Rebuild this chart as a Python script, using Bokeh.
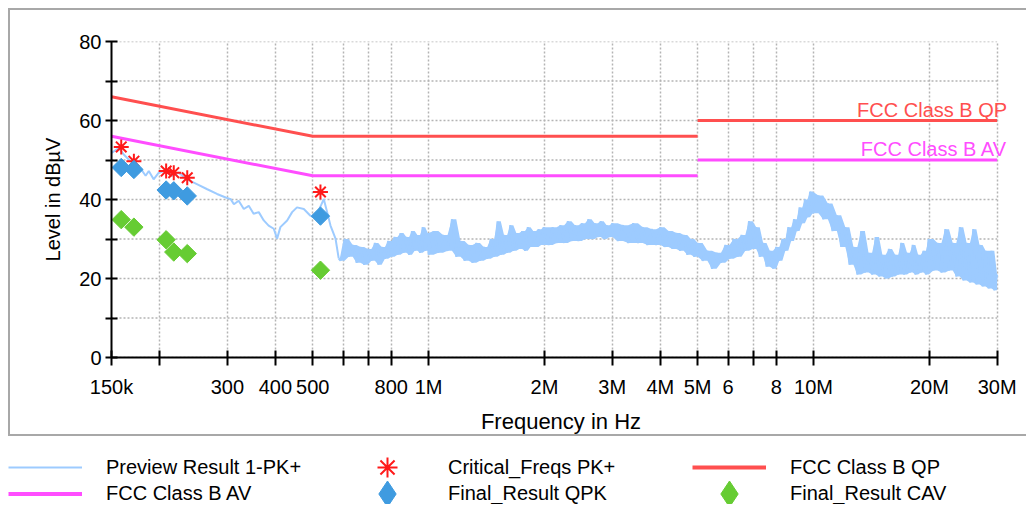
from bokeh.plotting import figure
from bokeh.models import FixedTicker, Range1d, Legend, LegendItem, Label
from bokeh.layouts import column
from bokeh.embed import file_html
from bokeh.resources import INLINE

FONT = "Liberation Sans"

# ---------------- data ----------------
# Preview Result 1-PK+ : smooth low-frequency part (kHz, dBuV)
preview_smooth_khz = [150.0, 156.7, 161.4, 168, 178, 184, 187.5, 193, 199, 207, 216, 224, 236,
                      250, 266, 282, 297, 306, 312, 321, 331, 341, 351, 362, 373, 384, 396,
                      404, 412, 429, 442, 455, 474, 493, 503, 518, 534, 545, 556, 573, 584]
preview_smooth_level = [51.8, 53.0, 51.4, 49.7, 48.0, 46.0, 47.2, 45.1, 46.8, 47.2, 46.0, 46.8, 45.1,
                        43.9, 42.6, 41.4, 40.5, 40.1, 38.8, 39.7, 37.6, 38.4, 36.4, 36.8, 34.7, 33.4, 32.6,
                        30.1, 33.0, 34.7, 36.8, 38.0, 37.6, 35.9, 35.5, 37.2, 40.1, 36.8, 33.4, 30.1, 25.1]

# Preview Result 1-PK+ : noisy part (MHz, dBuV), alternating lows and highs of the noise band
preview_noisy_mhz = [
    0.590, 0.605, 0.620, 0.635, 0.650, 0.665, 0.680, 0.695, 0.710, 0.725, 0.740, 0.755, 0.770, 0.785,
    0.800, 0.815, 0.830, 0.845, 0.860, 0.875, 0.890, 0.905, 0.920, 0.935, 0.950, 0.965, 0.980, 0.995,
    1.00, 1.03, 1.06, 1.09, 1.12, 1.15, 1.18, 1.21, 1.24, 1.27, 1.30, 1.33, 1.36, 1.39, 1.42, 1.45, 1.48,
    1.51, 1.54, 1.57, 1.60, 1.63, 1.66, 1.69, 1.72, 1.75, 1.78, 1.81, 1.84, 1.87, 1.90, 1.93, 1.96, 1.99,
    2.05, 2.10, 2.15, 2.20, 2.25, 2.30, 2.35, 2.40, 2.45, 2.50, 2.55, 2.60, 2.65, 2.70, 2.75, 2.80, 2.85,
    2.90, 2.95, 3.00,
    3.1, 3.2, 3.3, 3.4, 3.5, 3.6, 3.7, 3.8, 3.9, 4.0, 4.1, 4.2, 4.3, 4.4, 4.5, 4.6, 4.7, 4.8, 4.9, 5.0,
    5.15, 5.30, 5.45, 5.60, 5.75, 5.90, 6.05, 6.20, 6.35, 6.50, 6.65, 6.80, 6.95, 7.10, 7.25, 7.40, 7.55,
    7.70, 7.85, 8.00, 8.15, 8.30, 8.45, 8.60, 8.75, 8.90, 9.05, 9.20, 9.35, 9.50, 9.65, 9.80, 9.95,
    10.3, 10.6, 10.9, 11.2, 11.5, 11.8, 12.1, 12.4, 12.7, 13.0, 13.3, 13.6, 13.9, 14.2, 14.5, 14.8, 15.1,
    15.4, 15.7, 16.0, 16.3, 16.6, 16.9, 17.2, 17.5, 17.8, 18.1, 18.4, 18.7, 19.0, 19.3, 19.6, 19.9,
    20.5, 21.0, 21.5, 22.0, 22.5, 23.0, 23.5, 24.0, 24.5, 25.0, 25.5, 26.0, 26.5, 27.0, 27.5, 28.0, 28.5,
    29.0, 29.5, 30.0]
preview_noisy_level = [
    24.5, 30.0, 25.5, 28.5, 24.0, 28.0, 23.5, 27.5, 24.5, 29.0, 23.5, 28.0, 25.0, 29.5,
    25.5, 30.5, 26.0, 31.5, 26.5, 30.5, 26.0, 32.0, 27.0, 31.0, 26.5, 33.0, 27.0, 31.5,
    26.0, 32.0, 26.5, 31.0, 27.0, 35.0, 25.5, 29.5, 24.5, 28.5, 24.0, 29.0, 24.5, 28.0, 25.0, 30.0, 25.5,
    34.5, 26.0, 31.0, 26.5, 33.5, 27.0, 31.5, 27.5, 32.0, 27.0, 33.0, 28.0, 32.0, 28.0, 32.5, 28.5, 33.0,
    28.5, 33.0, 29.0, 33.5, 29.0, 34.5, 29.5, 33.5, 29.5, 34.0, 30.0, 35.0, 30.0, 34.0, 30.5, 34.5, 30.0,
    33.5, 30.5, 34.0,
    29.5, 33.5, 29.0, 34.0, 29.0, 33.0, 28.5, 32.5, 28.5, 33.0, 28.0, 32.0, 27.5, 31.5, 27.0, 31.0, 26.0, 30.0, 25.5, 29.0,
    24.5, 27.0, 22.5, 26.5, 24.0, 28.5, 25.0, 30.0, 25.5, 31.0, 27.0, 34.5, 27.5, 33.0, 25.5, 29.0, 23.0,
    27.0, 22.5, 28.0, 24.5, 30.0, 27.0, 33.0, 29.5, 35.0, 32.0, 38.0, 34.0, 40.0, 35.5, 42.0, 36.5,
    41.0, 35.0, 39.0, 32.0, 36.0, 28.0, 33.0, 23.5, 28.0, 21.0, 32.0, 21.5, 26.5, 21.0, 30.5, 20.5, 26.0,
    20.0, 27.5, 20.5, 26.0, 21.0, 29.0, 21.0, 26.5, 21.5, 28.5, 21.0, 26.0, 21.5, 27.0, 21.0, 30.0,
    22.0, 29.0, 21.5, 32.5, 22.0, 29.0, 20.5, 33.0, 19.5, 29.0, 19.0, 32.5, 18.5, 28.5, 18.0, 27.0, 17.5,
    27.0, 17.0, 21.0]

# Limit lines (Hz, dBuV)
limit_freq = [[150e3, 500e3, 5e6], [5e6, 30e6]]
limit_qp_level = [[66, 56, 56], [60, 60]]
limit_av_level = [[56, 46, 46], [50, 50]]

# Markers
final_freq_khz = [159, 171.5, 208, 217.7, 236, 523.6]
critical_pk_level = [53.3, 49.7, 47.2, 46.8, 45.5, 41.9]
final_qpk_level = [48.1, 47.6, 42.4, 42.2, 40.9, 35.8]
final_cav_level = [34.9, 33.0, 29.8, 26.7, 26.3, 22.1]

# Axes
x_ticks = [150e3, 200e3, 300e3, 400e3, 500e3, 600e3, 700e3, 800e3, 1e6, 2e6, 3e6, 4e6, 5e6,
           6e6, 7e6, 8e6, 10e6, 20e6, 30e6]
x_tick_labels = ["150k", "", "300", "400", "500", "", "", "800", "1M", "2M", "3M", "4M", "5M",
                 "6", "", "8", "10M", "20M", "30M"]
y_ticks = [0, 10, 20, 30, 40, 50, 60, 70, 80]
y_tick_labels = ["0", "", "20", "", "40", "", "60", "", "80"]

C_TRACE = "#9DCBFF"
C_QP = "#FF4F4F"
C_AV = "#FF4DFF"
C_CRIT = "#FF1A1A"
C_QPK = "#3F9BE0"
C_CAV = "#66CC33"
C_BOX = "#a8a8a8"

# ---------------- layout constants (pixels) ----------------
W, H_CHART, H_LEG = 1026, 436, 68
FRAME_L, FRAME_T, FRAME_W, FRAME_H = 111, 41, 899, 319
FRAME_B = FRAME_T + FRAME_H

p = figure(width=W, height=H_CHART, x_axis_type="log",
           x_range=Range1d(150e3, 32.5e6), y_range=Range1d(0, 80),
           output_backend="svg", toolbar_location=None,
           min_border_left=FRAME_L, min_border_top=FRAME_T,
           min_border_right=W - FRAME_L - FRAME_W, min_border_bottom=H_CHART - FRAME_B)
p.outline_line_color = None
p.background_fill_color = "white"
p.border_fill_color = None
p.styles = {
    "background-color": "white",
    "background-image": ("linear-gradient(%s,%s), linear-gradient(%s,%s), linear-gradient(%s,%s)"
                         % (C_BOX, C_BOX, C_BOX, C_BOX, C_BOX, C_BOX)),
    "background-size": "2px 428px, 100% 2px, 100% 2px",
    "background-position": "8px 8px, 8px 8px, 8px 434px",
    "background-repeat": "no-repeat",
}

p.xaxis.ticker = FixedTicker(ticks=x_ticks)
p.xaxis.major_label_overrides = dict(zip(x_ticks, x_tick_labels))
p.xaxis.bounds = (x_ticks[0], x_ticks[-1])
p.yaxis.ticker = FixedTicker(ticks=y_ticks)
p.yaxis.major_label_overrides = dict(zip(y_ticks, y_tick_labels))
p.xaxis.axis_label = "Frequency in Hz"
p.yaxis.axis_label = "Level in dBµV"

for ax in (p.xaxis[0], p.yaxis[0]):
    ax.axis_line_width = 2
    ax.axis_line_color = "black"
    ax.major_tick_line_width = 2
    ax.major_tick_line_color = "black"
    ax.minor_tick_line_color = None
    ax.major_label_text_font = FONT
    ax.major_label_text_font_size = "20px"
    ax.major_label_text_color = "black"
    ax.axis_label_text_font = FONT
    ax.axis_label_text_font_style = "normal"
    ax.axis_label_text_color = "black"
p.xaxis.major_tick_in = 7
p.xaxis.major_tick_out = 8
p.xaxis.major_label_standoff = 10
p.xaxis.axis_label_standoff = 8
p.xaxis.axis_label_text_font_size = "22px"
p.yaxis.major_tick_in = 6
p.yaxis.major_tick_out = 6
p.yaxis.major_label_standoff = 4
p.yaxis.axis_label_standoff = 12
p.yaxis.axis_label_text_font_size = "20px"

GRID_C = "#b4b4b4"
p.xgrid.grid_line_color = GRID_C
p.xgrid.grid_line_dash = "2 2"
p.xgrid.grid_line_width = 1.5
p.ygrid.visible = False
p.segment(x0=x_ticks[0], x1=x_ticks[-1], y0=y_ticks, y1=y_ticks,
          line_color=GRID_C, line_dash="2 2", line_width=1.5)

# Preview trace
smooth_f = [k * 1e3 for k in preview_smooth_khz]
noisy_f = [smooth_f[-1]] + [m * 1e6 for m in preview_noisy_mhz]
noisy_l = [preview_smooth_level[-1]] + preview_noisy_level
# the dense noise band: span covered between neighbouring samples of the trace
band_lo = [min(a, b) for a, b in zip(noisy_l[:-1], noisy_l[1:])]
band_hi = [max(a, b) for a, b in zip(noisy_l[:-1], noisy_l[1:])]
p.varea(x=noisy_f[1:], y1=band_lo, y2=band_hi, fill_color=C_TRACE)
p.line(smooth_f, preview_smooth_level, line_color=C_TRACE, line_width=2)
p.line(noisy_f, noisy_l, line_color=C_TRACE, line_width=2)

p.multi_line(limit_freq, limit_qp_level, line_color=C_QP, line_width=3)
p.multi_line(limit_freq, limit_av_level, line_color=C_AV, line_width=3)

ff = [k * 1e3 for k in final_freq_khz]
p.scatter(ff, critical_pk_level, marker="asterisk", size=15, line_color=C_CRIT, line_width=2)
p.scatter(ff, final_qpk_level, marker="square", angle=0.785398, size=13,
          fill_color=C_QPK, line_color=C_QPK)
p.scatter(ff, final_cav_level, marker="square", angle=0.785398, size=13,
          fill_color=C_CAV, line_color=C_CAV)

p.add_layout(Label(x=limit_freq[1][-1], y=limit_qp_level[1][-1], text="FCC Class B QP",
                   text_align="right", text_baseline="middle", x_offset=10, y_offset=11,
                   text_color=C_QP, text_font=FONT, text_font_size="20px"))
p.add_layout(Label(x=limit_freq[1][-1], y=limit_av_level[1][-1], text="FCC Class B AV",
                   text_align="right", text_baseline="middle", x_offset=10, y_offset=11,
                   text_color=C_AV, text_font=FONT, text_font_size="20px"))

# ---------------- legend strip below the box ----------------
lg = figure(width=W, height=H_LEG, x_range=Range1d(0, 1), y_range=Range1d(0, 1),
            output_backend="svg", toolbar_location=None, min_border=0,
            x_axis_type=None, y_axis_type=None)
lg.outline_line_color = None
lg.background_fill_color = "white"
lg.border_fill_color = "white"
for fig in (p, lg):
    if "frame_align" in fig.properties():
        fig.frame_align = False

NO_DATA = [float("nan")]   # legend swatches only, nothing is drawn in the strip
s_tr = lg.line(NO_DATA, NO_DATA, line_color=C_TRACE, line_width=2)
s_cr = lg.scatter(NO_DATA, NO_DATA, marker="asterisk", line_color=C_CRIT, line_width=2)
s_qp = lg.line(NO_DATA, NO_DATA, line_color=C_QP, line_width=4)
s_av = lg.line(NO_DATA, NO_DATA, line_color=C_AV, line_width=4)
s_qk = lg.scatter(NO_DATA, NO_DATA, marker="diamond", fill_color=C_QPK, line_color=C_QPK)
s_ca = lg.scatter(NO_DATA, NO_DATA, marker="diamond", fill_color=C_CAV, line_color=C_CAV)

ROW_CENTER = [467 - H_CHART, 493 - H_CHART]   # centre of each legend row inside the strip
rows = [
    ([("Preview Result 1-PK+", s_tr), ("Critical_Freqs PK+", s_cr), ("FCC Class B QP", s_qp)], 50),
    ([("FCC Class B AV", s_av), ("Final_Result QPK", s_qk), ("Final_Result CAV", s_ca)], 65),
]
for (entries, gh), yc in zip(rows, ROW_CENTER):
    leg = Legend(items=[LegendItem(label=t, renderers=[r]) for t, r in entries],
                 location=(8, H_LEG - yc - gh / 2), orientation="horizontal",
                 glyph_width=74, glyph_height=gh, label_height=20, label_width=244, label_standoff=24,
                 spacing=0, padding=0, margin=0, border_line_color=None, background_fill_alpha=0,
                 label_text_font=FONT, label_text_font_size="20px", label_text_color="black")
    lg.add_layout(leg)

open("out.html", "w").write(file_html(column(p, lg), INLINE))
